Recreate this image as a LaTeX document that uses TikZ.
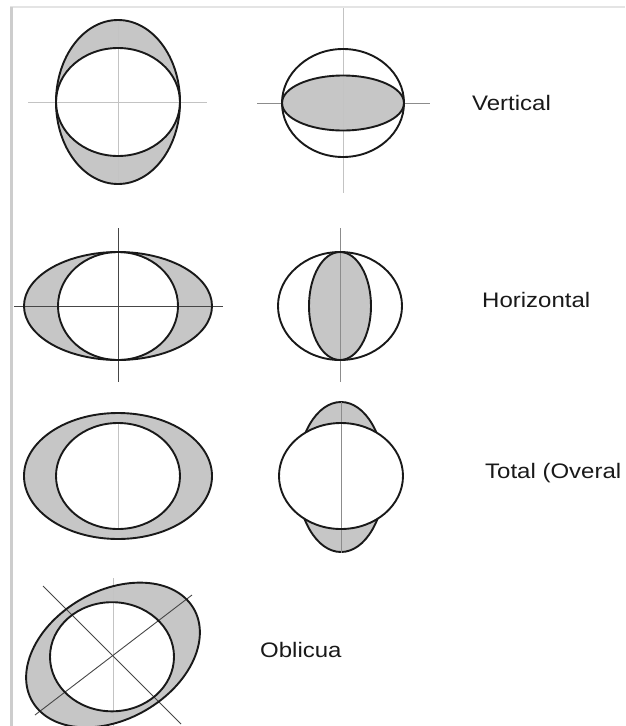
\documentclass[tikz,border=0pt]{standalone}
\usepackage{fontspec}
\setmainfont{Liberation Sans}
\definecolor{ringgray}{RGB}{198,198,198}
\definecolor{faintline}{RGB}{195,195,195}
\definecolor{midline}{RGB}{140,140,140}
\definecolor{darkline}{RGB}{70,70,70}
\definecolor{txtcol}{RGB}{25,25,25}
\begin{document}
\begin{tikzpicture}[x=1pt,y=-1pt,
  outline/.style={draw=black!90,line width=1.9pt},
  ringfill/.style={fill=ringgray},
  holefill/.style={fill=white},
  faint/.style={draw=faintline,line width=1pt},
  mid/.style={draw=midline,line width=1pt},
  dark/.style={draw=darkline,line width=1pt},
  label/.style={anchor=base west,inner sep=0pt,text=txtcol,
    font=\fontsize{24}{24}\selectfont,yscale=0.875,transform shape}]
\useasboundingbox (0,0) rectangle (625,726);
\clip (0,0) rectangle (625,726);
\fill[white] (0,0) rectangle (625,726);
% frame
\draw[draw={rgb,255:red,228;green,228;blue,228},line width=2pt] (10,7) -- (625,7);
\draw[draw={rgb,255:red,205;green,205;blue,205},line width=3pt] (11,7) -- (11,726);

% ---------- Row 1: Vertical ----------
\path[ringfill] (118,102) ellipse [x radius=62pt, y radius=82pt];
\path[holefill] (118,102) ellipse [x radius=62pt, y radius=54pt];
\draw[faint] (28,102) -- (207,102);
\draw[faint] (118,20) -- (118,185);
\draw[outline] (118,102) ellipse [x radius=62pt, y radius=82pt];
\draw[outline] (118,102) ellipse [x radius=62pt, y radius=54pt];

\draw[mid] (257,103) -- (430,103);
\path[holefill] (343,103) ellipse [x radius=61pt, y radius=54pt];
\path[ringfill] (343,103) ellipse [x radius=61pt, y radius=27.5pt];
\draw[faint] (343,8) -- (343,193);
\draw[outline] (343,103) ellipse [x radius=61pt, y radius=54pt];
\draw[outline] (343,103) ellipse [x radius=61pt, y radius=27.5pt];

\node[label] (tv) at (472,110) {Vertical};

% ---------- Row 2: Horizontal ----------
\path[ringfill] (118,306) ellipse [x radius=94pt, y radius=54pt];
\path[holefill] (118,306) ellipse [x radius=60pt, y radius=54pt];
\draw[dark] (14,306) -- (223,306);
\draw[dark] (118,228) -- (118,382);
\draw[outline] (118,306) ellipse [x radius=94pt, y radius=54pt];
\draw[outline] (118,306) ellipse [x radius=60pt, y radius=54pt];

\path[holefill] (340,306) ellipse [x radius=62pt, y radius=54pt];
\path[ringfill] (340,306) ellipse [x radius=31pt, y radius=54pt];
\draw[mid] (340,228) -- (340,382);
\draw[outline] (340,306) ellipse [x radius=62pt, y radius=54pt];
\draw[outline] (340,306) ellipse [x radius=31pt, y radius=54pt];

\node[label] (th) at (482,307) {Horizontal};

% ---------- Row 3: Total ----------
\path[ringfill] (118,476) ellipse [x radius=94pt, y radius=63pt];
\path[holefill] (118,476) ellipse [x radius=62pt, y radius=53pt];
\draw[faint] (118,423) -- (118,529);
\draw[outline] (118,476) ellipse [x radius=94pt, y radius=63pt];
\draw[outline] (118,476) ellipse [x radius=62pt, y radius=53pt];

\path[ringfill] (341,477) ellipse [x radius=44pt, y radius=75pt];
\draw[outline] (341,477) ellipse [x radius=44pt, y radius=75pt];
\path[holefill] (341,476) ellipse [x radius=62pt, y radius=53pt];
\draw[mid] (341,402) -- (341,553);
\draw[outline] (341,476) ellipse [x radius=62pt, y radius=53pt];

\node[label] (tt) at (485,478) {Total (Overal};

% ---------- Row 4: Oblicua ----------
\begin{scope}[shift={(113,655)},yscale=0.88]
  \path[ringfill,rotate=40] (0,0) ellipse [x radius=97pt, y radius=70pt];
  \path[holefill] (-1,2) circle [radius=62pt];
\end{scope}
\draw[faint] (113,578) -- (113,726);
\coordinate (a1) at (43,586);
\coordinate (a2) at (181,724);
\coordinate (b1) at (35,715);
\coordinate (b2) at (192,595);
\draw[dark,line width=0.9pt] (a1) -- (a2);
\draw[dark,line width=0.9pt] (b1) -- (b2);
\begin{scope}[shift={(113,655)},yscale=0.88]
  \draw[outline,rotate=40] (0,0) ellipse [x radius=97pt, y radius=70pt];
  \draw[outline] (-1,2) circle [radius=62pt];
\end{scope}

\node[label] (to) at (260,657) {Oblicua};
\end{tikzpicture}
\end{document}
